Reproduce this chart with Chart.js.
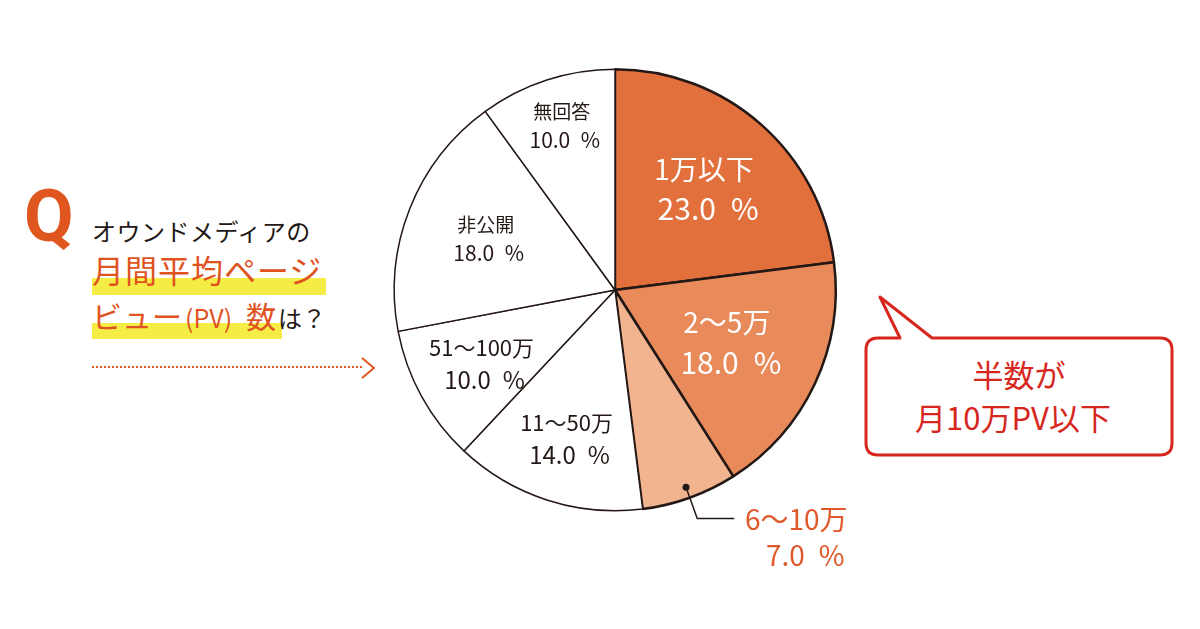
<!DOCTYPE html>
<html lang="ja">
<head>
<meta charset="utf-8">
<script src="https://cdn.jsdelivr.net/npm/chart.js@4"></script>
<style>
  html, body { margin: 0; padding: 0; background: #fff; }
  #wrap { position: relative; width: 1200px; height: 629px; overflow: hidden; font-family: "Noto Sans CJK JP", sans-serif; }
  #pie { position: absolute; left: 0; top: 0; }
  .q { position: absolute; left: 24px; top: 174px; font: 700 72px Roboto, sans-serif; color: #e0561f; }
  .t { position: absolute; left: 92px; white-space: nowrap; line-height: 1; }
  .t1 { top: 219px; font-size: 24px; color: #231815; letter-spacing: 0.5px; }
  .t2 { top: 253px; font-size: 32px; color: #e0531f; letter-spacing: 1px; }
  .t3 { top: 300px; font-size: 30px; color: #e0531f; }
  .t3 .s { font-size: 25px; margin: 0 14px 0 3px; }
  .t3 .d { font-size: 24px; color: #231815; margin-left: 2px; }
  .hl { position: absolute; background: #f6ec46; }
  .dots { position: absolute; left: 92px; top: 366px; width: 270px; border-top: 2px dotted #e0561f; }
  .bubble { position: absolute; left: 0; top: 0; }
  .btext { position: absolute; left: 866px; width: 306px; text-align: center; color: #d7261e; font-size: 31px; line-height: 1; }
</style>
</head>
<body>
<div id="wrap">
  <div class="hl" style="left:92px;top:278px;width:234px;height:17px"></div>
  <div class="hl" style="left:92px;top:323px;width:190px;height:16px"></div>
  <div class="q">Q</div>
  <div class="t t1">オウンドメディアの</div>
  <div class="t t2">月間平均ページ</div>
  <div class="t t3">ビュー<span class="s">(PV)</span>数<span class="d">は？</span></div>
  <div class="dots"></div>
  <svg class="bubble" width="1200" height="629">
    <polyline points="362,358 374,368 362,378" fill="none" stroke="#e0561f" stroke-width="2"/>
    <path d="M878,338 H900 L880,297 L932,338 H1160 Q1172,338 1172,350 V443 Q1172,455 1160,455 H878 Q866,455 866,443 V350 Q866,338 878,338 Z"
          fill="#fff" stroke="#d7261e" stroke-width="3" stroke-linejoin="round"/>
  </svg>
  <div class="btext" style="top:358px">半数が</div>
  <div class="btext" style="top:401px;left:860px">月10万PV以下</div>
  <canvas id="pie" width="1200" height="629"></canvas>
</div>
<script>
const categories = ['1万以下', '2〜5万', '6〜10万', '11〜50万', '51〜100万', '非公開', '無回答']
const shares = [23.0, 18.0, 7.0, 14.0, 10.0, 18.0, 10.0]

const fills = ['#e2703d', '#e88a5a', '#f1b48f', '#ffffff', '#ffffff', '#ffffff', '#ffffff']
const borders = [2.5, 2.5, 2.5, 1.5, 1.5, 1.5, 1.5]
// radial position of each label as a share of the radius; null = outside with leader
const labelAt = [0.61, 0.56, null, 0.71, 0.69, 0.63, 0.78]
const labelSize = [28, 28, 28, 22, 22, 19, 19]

const ink = '#231815'
const fontFamily = '"Noto Sans CJK JP", sans-serif'

const sliceLabels = {
  id: 'sliceLabels',
  afterDatasetsDraw(chart) {
    const { ctx } = chart
    const arcs = chart.getDatasetMeta(0).data
    ctx.save()
    ctx.textAlign = 'center'
    ctx.textBaseline = 'middle'
    arcs.forEach((arc, i) => {
      const { x, y, startAngle, endAngle, outerRadius } = arc.getProps(['x', 'y', 'startAngle', 'endAngle', 'outerRadius'], true)
      const mid = (startAngle + endAngle) / 2
      const value = shares[i].toFixed(1) + '\u2002%'
      const size = labelSize[i]
      if (labelAt[i] === null) {
        const dx = x + Math.cos(mid) * outerRadius * 0.95
        const dy = y + Math.sin(mid) * outerRadius * 0.95
        const ex = x + Math.cos(mid) * outerRadius * 1.1
        const ey = y + Math.sin(mid) * outerRadius * 1.1
        ctx.strokeStyle = ink
        ctx.lineWidth = 1.5
        ctx.beginPath()
        ctx.moveTo(dx, dy)
        ctx.lineTo(ex, ey)
        ctx.lineTo(ex + 37, ey)
        ctx.stroke()
        ctx.fillStyle = ink
        ctx.beginPath()
        ctx.arc(dx, dy, 3.5, 0, Math.PI * 2)
        ctx.fill()
        ctx.fillStyle = '#e0592a'
        ctx.font = size + 'px ' + fontFamily
        ctx.fillText(categories[i], ex + 99, ey + 1)
        ctx.fillText(value, ex + 108, ey + 37)
        return
      }
      const r = outerRadius * labelAt[i]
      const cx = x + Math.cos(mid) * r
      const cy = y + Math.sin(mid) * r
      const big = fills[i] !== '#ffffff'
      ctx.fillStyle = big ? '#ffffff' : ink
      const gap = Math.round(size * 0.72)
      ctx.font = size + 'px ' + fontFamily
      ctx.fillText(categories[i], cx, cy - gap)
      ctx.font = (size + 2) + 'px ' + fontFamily
      ctx.fillText(value, cx + (big ? 4 : 3), cy + gap)
    })
    ctx.restore()
  },
}

new Chart(document.getElementById('pie').getContext('2d'), {
  type: 'pie',
  data: {
    labels: categories,
    datasets: [{
      data: shares,
      backgroundColor: fills,
      borderColor: ink,
      borderWidth: borders,
    }],
  },
  options: {
    responsive: false,
    animation: false,
    layout: { padding: { left: 393, right: 363, top: 68, bottom: 117 } },
    plugins: {
      legend: { display: false },
      tooltip: { enabled: false },
    },
  },
  plugins: [sliceLabels],
})
</script>
</body>
</html>
